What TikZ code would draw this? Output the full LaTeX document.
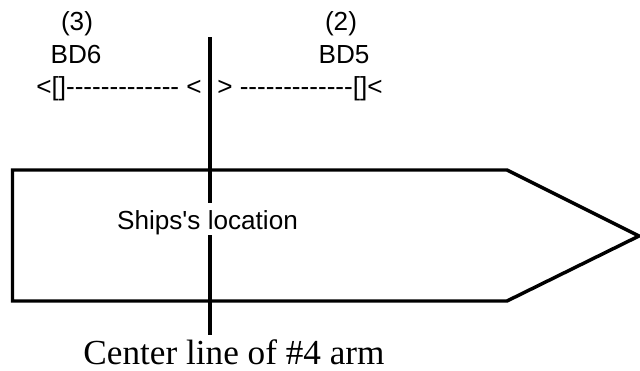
\documentclass[tikz,border=0pt]{standalone}
\usepackage{fontspec}
\newfontfamily\labfont{Liberation Sans}
\newfontfamily\capfont{Liberation Serif}
\begin{document}
\begin{tikzpicture}[x=0.75pt,y=-0.75pt,
  heavy/.style={line width=2.6pt,line cap=butt,line join=miter,black},
  lab/.style={font=\labfont\fontsize{19.6}{22}\selectfont,inner sep=0pt,text=black},
  captext/.style={font=\capfont\fontsize{26.4}{29}\selectfont,inner sep=0pt,text=black}]
\useasboundingbox (0,0) rectangle (640,371);
\coordinate (ctop) at (210,37);
\coordinate (cbot) at (210,334.5);
\coordinate (nw) at (12.5,170);
\coordinate (sw) at (12.5,301);
\coordinate (ne) at (507,170);
\coordinate (se) at (507,301);
\coordinate (tip) at (639,236);
\draw[heavy] (ctop) -- (cbot);
\draw[heavy] (tip) -- (ne) -- (nw) -- (sw) -- (se) -- cycle;
\node[lab,fill=white,text height=19.5pt,text depth=4.5pt,anchor=base] (loc) at (207.5,229) {Ships's location};
\node[lab,anchor=base] (n3) at (77,31) {(3)};
\node[lab,anchor=base] (bd6) at (76,63) {BD6};
\node[lab,anchor=base] (n2) at (341,31) {(2)};
\node[lab,anchor=base] (bd5) at (344,63) {BD5};
\node[lab,anchor=base west] (dl) at (36,95) {<[]------------- <};
\node[lab,anchor=base west] (dr) at (217,95) {> -------------[]<};
\node[captext,anchor=base] (title) at (234,364) {Center line of \#4 arm};
\end{tikzpicture}
\end{document}
